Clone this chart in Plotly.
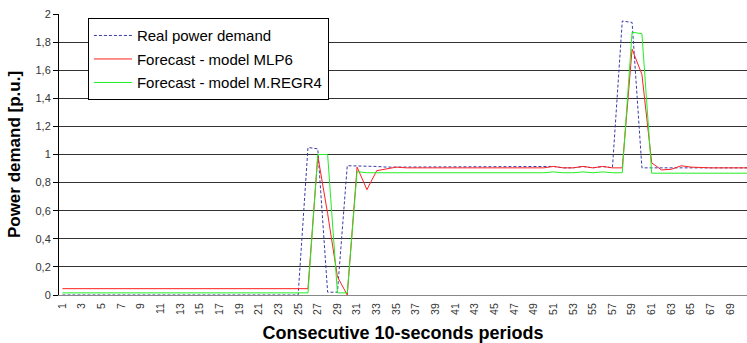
import plotly.graph_objects as go

periods = list(range(1, 72))

real_demand = ([0.0] * 25 +
               [1.05, 1.04, 0.02, 0.02, 0.92, 0.92, 0.915, 0.915, 0.91] +
               [0.91] * 16 +
               [0.915, 0.905, 0.905, 0.915, 0.905, 0.915, 0.905,
                1.95, 1.94, 0.905] +
               [0.905] * 11)

forecast_mlp6 = ([0.045] * 26 +
                 [0.99, 0.58, 0.13, 0.0, 0.91, 0.75, 0.885, 0.895, 0.91] +
                 [0.905] * 15 +
                 [0.915, 0.905, 0.905, 0.915, 0.905, 0.915, 0.905, 0.905,
                  1.75, 1.57, 0.94, 0.89, 0.895, 0.92, 0.91] +
                 [0.905] * 6)

forecast_mregr4 = ([0.015] * 26 +
                   [1.0, 1.0, 0.015, 0.015, 0.878] +
                   [0.87] * 19 +
                   [0.876, 0.87, 0.87, 0.876, 0.87, 0.876, 0.87, 0.87,
                    1.87, 1.86] +
                   [0.867] * 11)

y_ticks = [0, 0.2, 0.4, 0.6, 0.8, 1.0, 1.2, 1.4, 1.6, 1.8, 2.0]
y_ticktext = ["0", "0,2", "0,4", "0,6", "0,8", "1", "1,2", "1,4", "1,6", "1,8", "2"]
x_ticks = list(range(1, 72, 2))

names = ["Real power demand", "Forecast - model MLP6", "Forecast - model M.REGR4"]

fig = go.Figure()
fig.add_trace(go.Scatter(x=periods, y=real_demand, mode="lines", name=names[0],
                         legendgroup="a",
                         line=dict(color="#3a3aa8", width=1, dash="3px,2px")))
fig.add_trace(go.Scatter(x=periods, y=forecast_mlp6, mode="lines", name=names[1],
                         legendgroup="b",
                         line=dict(color="#ff2020", width=1)))
fig.add_trace(go.Scatter(x=periods, y=forecast_mregr4, mode="lines", name=names[2],
                         legendgroup="c",
                         line=dict(color="#22ee22", width=1)))

fig.update_layout(
    width=747, height=343,
    margin=dict(l=59, r=0, t=14, b=48),
    paper_bgcolor="white", plot_bgcolor="white",
    font=dict(family="Arial, Liberation Sans, sans-serif", color="#222"),
    showlegend=True,
    legend=dict(x=0.042, y=0.985, xanchor="left", yanchor="top",
                bgcolor="white", bordercolor="black", borderwidth=1,
                font=dict(size=15, color="black"),
                traceorder="grouped", tracegroupgap=1, itemwidth=38),
)
fig.update_xaxes(
    range=[0.65, 70.7],
    tickmode="array", tickvals=x_ticks, ticktext=[str(v) for v in x_ticks],
    tickangle=-90, tickfont=dict(size=10.5, color="#333"),
    ticklabelstandoff=3,
    showgrid=False, zeroline=False,
    showline=True, linecolor="#888", linewidth=1,
    ticks="",
    title=dict(text="<b>Consecutive 10-seconds periods</b>",
               font=dict(size=18, color="black"), standoff=13),
)
fig.update_yaxes(
    range=[0, 2],
    tickmode="array", tickvals=y_ticks, ticktext=y_ticktext,
    tickfont=dict(size=11, color="#333"),
    showgrid=True, gridcolor="#333", gridwidth=1,
    zeroline=False,
    showline=True, linecolor="black", linewidth=1,
    ticks="outside", ticklen=5, tickcolor="black",
    title=dict(text="<b>Power demand [p.u.]</b>",
               font=dict(size=17, color="black"), standoff=10),
)

fig.write_html("out.html")
